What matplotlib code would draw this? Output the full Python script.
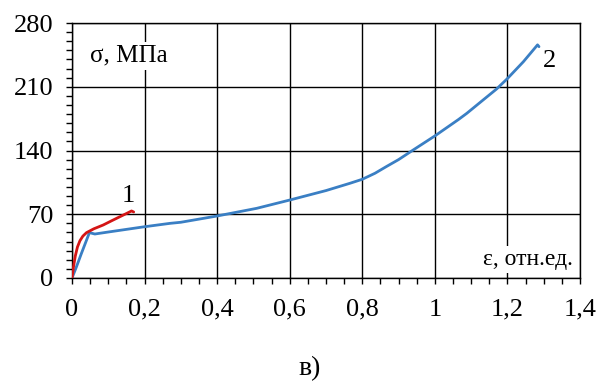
import matplotlib.pyplot as plt
from matplotlib.ticker import MultipleLocator, FuncFormatter

plt.rcParams['font.family'] = ['Liberation Serif', 'DejaVu Serif']

# curve 1 (red): strain, stress
eps1 = [0.0, 0.004, 0.009, 0.015, 0.022, 0.03, 0.04, 0.06, 0.086, 0.11, 0.132, 0.15, 0.164, 0.17]
sig1 = [0.0, 12.0, 24.0, 34.0, 41.0, 46.0, 49.8, 54.0, 58.2, 63.0, 67.3, 70.8, 73.6, 72.5]

# curve 2 (blue): strain, stress
eps2 = [0.0, 0.012, 0.025, 0.048, 0.063, 0.1, 0.2, 0.27, 0.3, 0.4, 0.509, 0.6, 0.7,
        0.766, 0.8, 0.835, 0.867, 0.9, 0.94, 1.0, 1.065, 1.088, 1.13, 1.17, 1.2, 1.244,
        1.283, 1.287]
sig2 = [0.0, 12.0, 26.0, 49.8, 48.3, 50.5, 56.3, 60.0, 61.2, 68.1, 76.5, 85.6, 96.0,
        104.0, 108.4, 115.0, 122.5, 130.0, 140.5, 156.0, 174.0, 180.8, 194.5, 207.5, 219.0,
        237.5, 256.0, 254.0]

fig = plt.figure(figsize=(6.01, 3.83), dpi=100)
ax = fig.add_axes([72 / 601, 1 - 278 / 383, 508 / 601, 255 / 383])

ax.plot(eps2, sig2, color='#3a7fc4', lw=2.0, solid_capstyle='round',
        solid_joinstyle='round', zorder=3)
ax.plot(eps1, sig1, color='#d41515', lw=2.0, solid_capstyle='round',
        solid_joinstyle='round', zorder=4)

ax.set_xlim(0, 1.4)
ax.set_ylim(0, 280)
ax.xaxis.set_major_locator(MultipleLocator(0.2))
ax.xaxis.set_minor_locator(MultipleLocator(0.05))
ax.yaxis.set_major_locator(MultipleLocator(70))
ax.yaxis.set_minor_locator(MultipleLocator(10))
ax.xaxis.set_major_formatter(FuncFormatter(lambda v, p: f"{v:g}".replace('.', ',')))
ax.grid(True, which='major', color='black', lw=1.0)
ax.set_axisbelow(True)

for s in ax.spines.values():
    s.set_linewidth(1.0)
    s.set_color('black')
ax.tick_params(which='both', direction='out', color='black', width=1.0,
               length=4.5, labelsize=19)
ax.tick_params(axis='x', pad=10.5)
ax.tick_params(axis='y', pad=9)

# axis captions inside the plot area
ax.text(0.05, 244, "σ, МПа", fontsize=18, ha='left', va='center',
        bbox=dict(facecolor='white', edgecolor='none', pad=2), zorder=2)
ax.text(1.38, 20, "ε, отн.ед.", fontsize=17, ha='right', va='center',
        bbox=dict(facecolor='white', edgecolor='none', pad=2), zorder=2)

# curve numbers
ax.text(0.155, 90, "1", fontsize=19, ha='center', va='center')
ax.text(1.315, 238, "2", fontsize=19, ha='center', va='center')

fig.text(310 / 601, 1 - 369 / 383, "в)", fontsize=20, ha='center', va='center')

fig.savefig("out.png", dpi=100)
